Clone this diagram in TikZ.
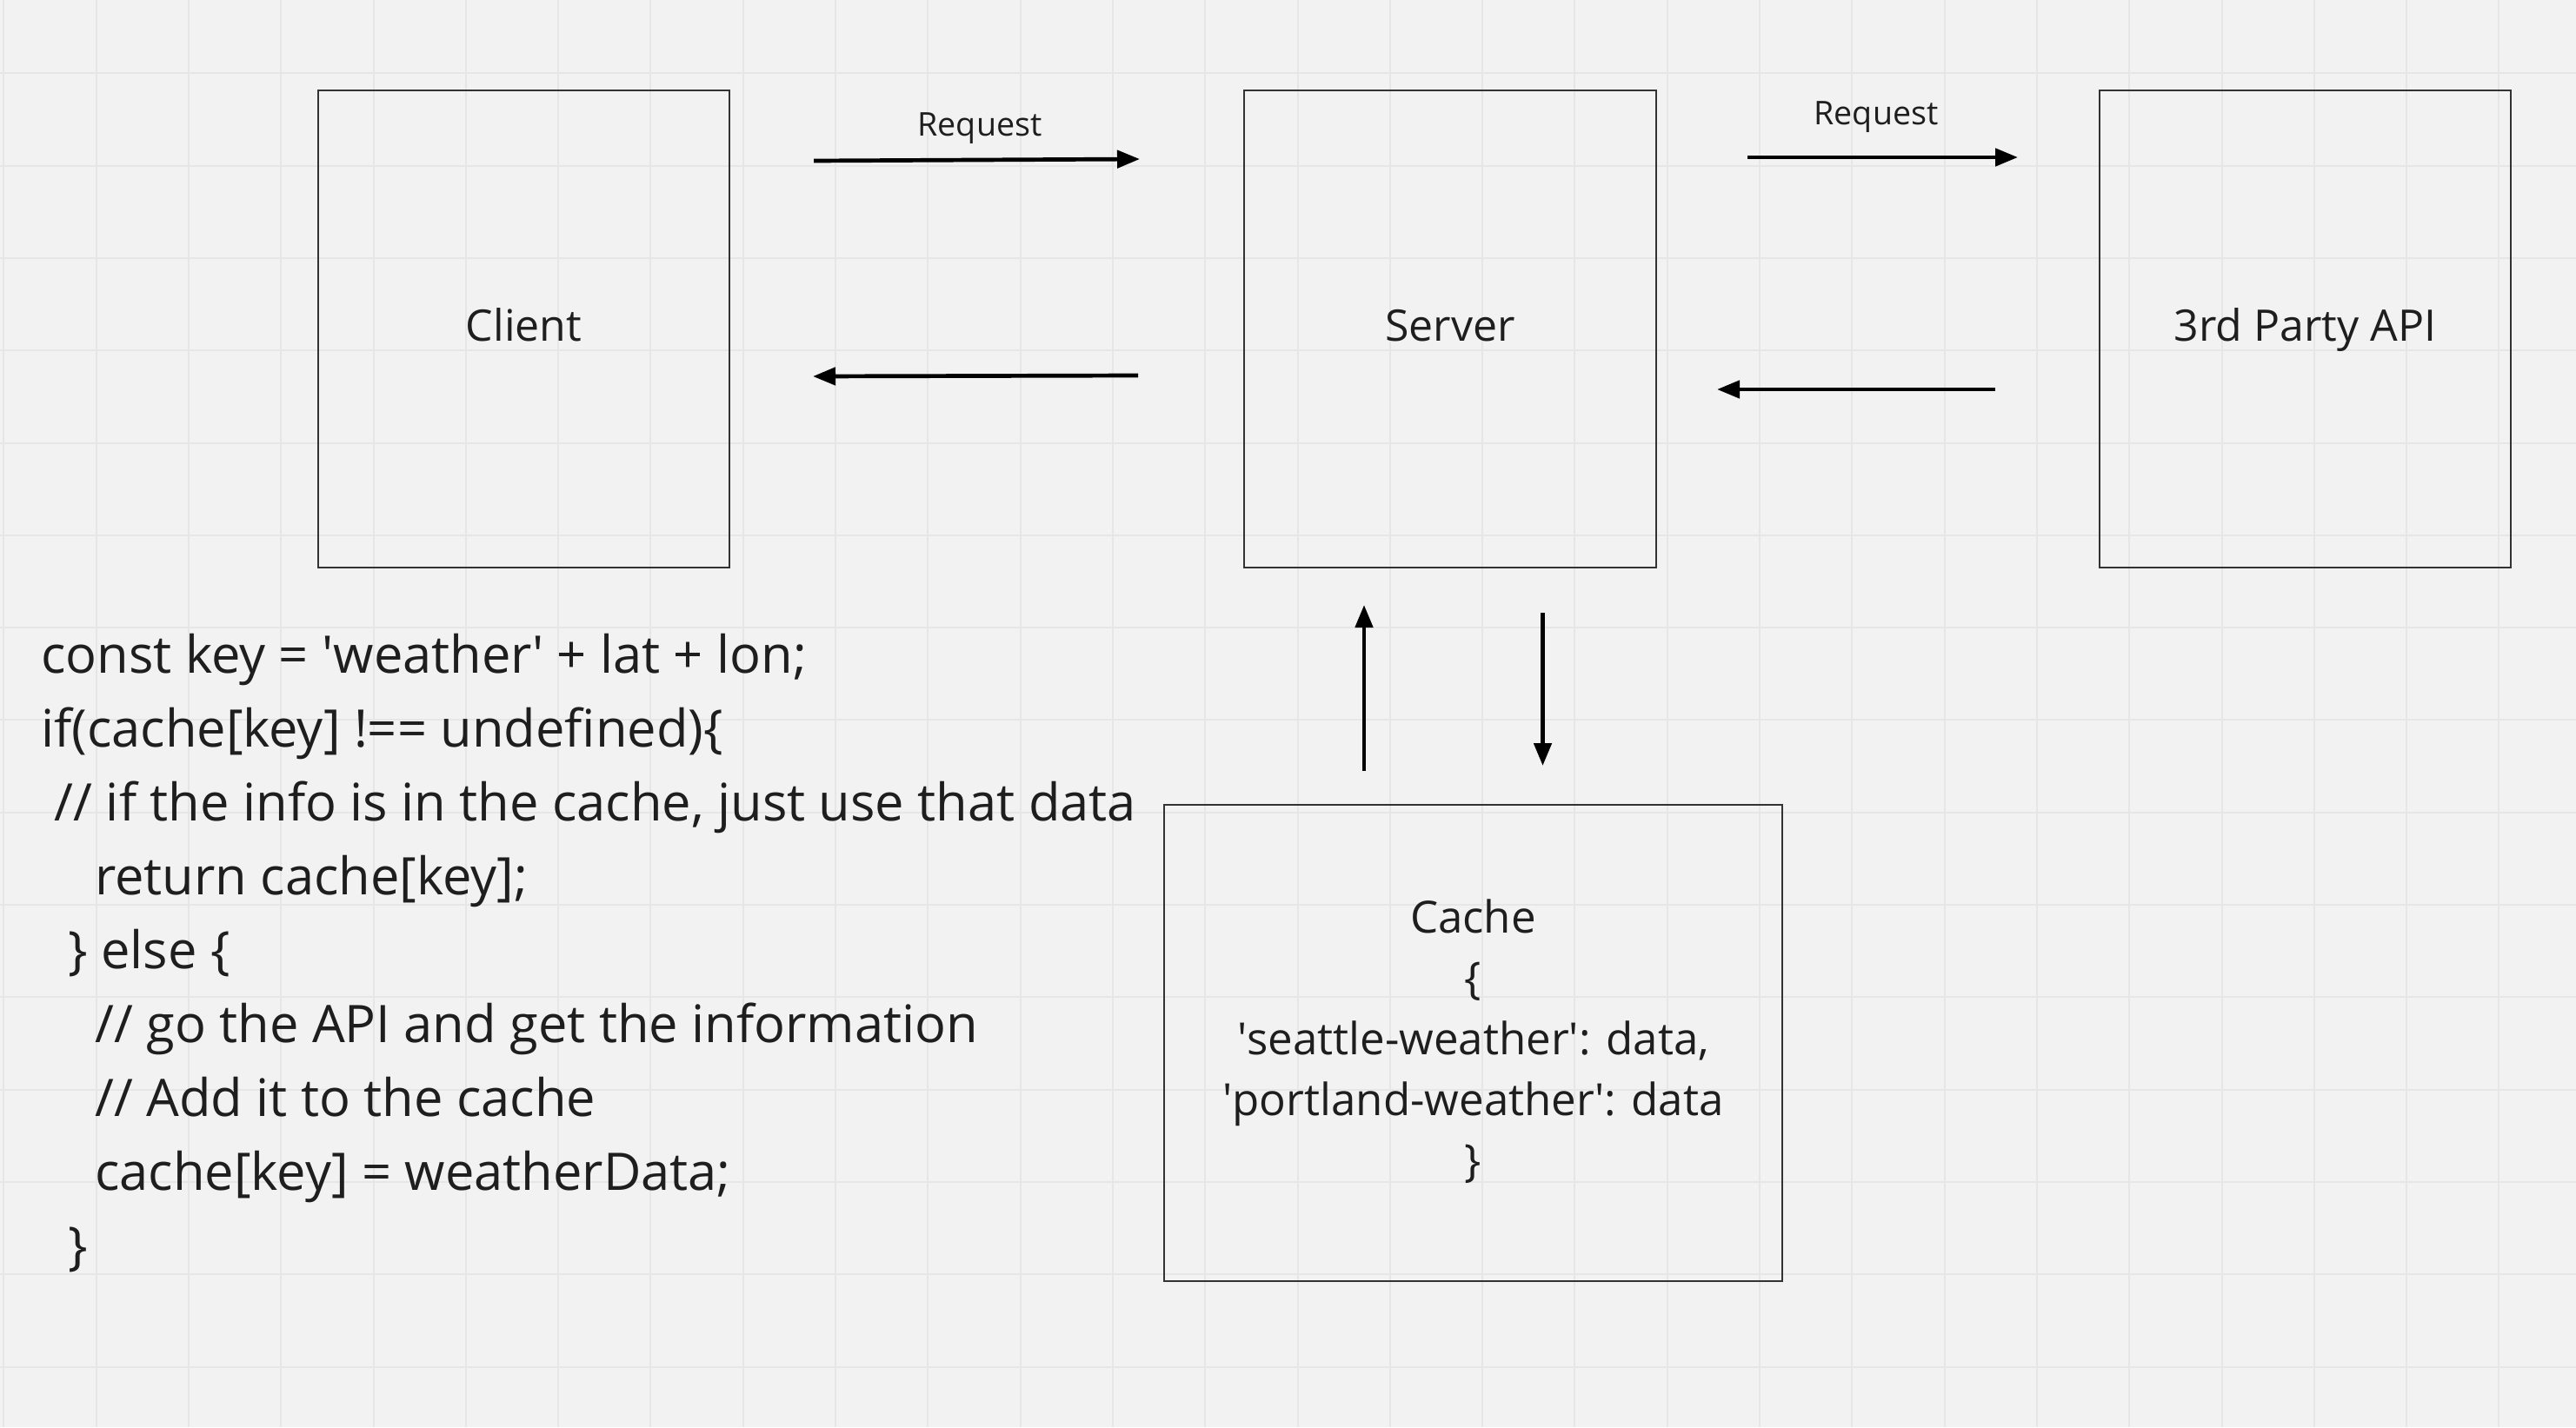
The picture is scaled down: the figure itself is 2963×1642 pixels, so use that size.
\documentclass[tikz,border=0pt]{standalone}
\usepackage{fontspec}
\setmainfont{Open Sans}
\usetikzlibrary{arrows.meta}
\definecolor{bgc}{HTML}{F2F2F2}
\definecolor{gridc}{HTML}{E6E6E6}
\definecolor{boxc}{HTML}{333333}
\definecolor{txtc}{HTML}{1E1E1E}
\newcommand{\sq}{\textquotesingle}
\tikzset{
  boxnode/.style={draw=boxc, line width=2.5pt, fill=none, inner sep=0pt, outer sep=0pt},
  bigtext/.style={text=txtc, inner sep=0pt, font=\fontsize{50}{68}\selectfont, anchor=base},
  reqtext/.style={text=txtc, inner sep=0pt, font=\fontsize{37.6}{50}\selectfont, anchor=base},
  cachetext/.style={text=txtc, inner sep=0pt, font=\fontsize{51}{70}\selectfont, anchor=base},
  codetext/.style={text=txtc, inner sep=0pt, font=\fontsize{59.6}{85}\selectfont, anchor=base west},
  flow/.style={draw=black, line width=4.7pt, -{Triangle[length=26pt,width=20pt]}},
  gridline/.style={draw=gridc, line width=2pt}
}
\begin{document}
\begin{tikzpicture}[x=1pt,y=-1pt]
\fill[bgc] (0,0) rectangle (2963,1642);
\useasboundingbox (0,0) rectangle (2963,1642);
\foreach \i in {0,...,27} \draw[gridline] ({4.3+106.3*\i},0) -- ++(0,1642);
\foreach \j in {0,...,14} \draw[gridline] (0,{84.3+106.3*\j}) -- ++(2963,0);

% boxes
\node[boxnode, minimum width=473pt, minimum height=549pt] (client) at (602.5,378.5) {};
\node[boxnode, minimum width=474pt, minimum height=549pt] (server) at (1668,378.5) {};
\node[boxnode, minimum width=473pt, minimum height=549pt] (api) at (2651.5,378.5) {};
\node[boxnode, minimum width=711pt, minimum height=548pt] (cache) at (1694.5,1200) {};

% box labels
\node[bigtext] (clientlbl) at (602.5,392) {Client};
\node[bigtext] (serverlbl) at (1668,392) {Server};
\node[bigtext] (apilbl) at (2651.5,392) {3rd Party API};

\node[cachetext] (c1) at (1694.5,1073.6) {Cache};
\node[cachetext] (c2) at (1694.5,1143.5) {\{};
\node[cachetext] (c3) at (1694.5,1213) {\sq seattle-weather\sq: data,};
\node[cachetext] (c4) at (1694.5,1283) {\sq portland-weather\sq: data};
\node[cachetext] (c5) at (1694.5,1353) {\}};

% request labels
\node[reqtext] (req1) at (1127,156) {Request};
\node[reqtext] (req2) at (2158,143) {Request};

% connector end points
\coordinate (a1s) at (936,185);  \coordinate (a1e) at (1311,183);
\coordinate (a2s) at (1309,432); \coordinate (a2e) at (935,433);
\coordinate (a3s) at (2010,181); \coordinate (a3e) at (2321,181);
\coordinate (a4s) at (2295,448); \coordinate (a4e) at (1975,448);
\coordinate (a5s) at (1569,887); \coordinate (a5e) at (1569,696);
\coordinate (a6s) at (1774.5,705); \coordinate (a6e) at (1774.5,881);

\draw[flow] (a1s) -- (a1e);
\draw[flow] (a2s) -- (a2e);
\draw[flow] (a3s) -- (a3e);
\draw[flow] (a4s) -- (a4e);
\draw[flow] (a5s) -- (a5e);
\draw[flow] (a6s) -- (a6e);

% code
\node[codetext] (l1) at (47,774) {const key = \sq weather\sq{} + lat + lon;};
\node[codetext] (l2) at (47,859) {if(cache[key] !== undefined)\{};
\node[codetext] (l3) at (62.6,944) {// if the info is in the cache, just use that data};
\node[codetext] (l4) at (109,1029) {return cache[key];};
\node[codetext] (l5) at (78,1114) {\} else \{};
\node[codetext] (l6) at (109,1199) {// go the API and get the information};
\node[codetext] (l7) at (109,1284) {// Add it to the cache};
\node[codetext] (l8) at (109,1369) {cache[key] = weatherData;};
\node[codetext] (l9) at (78,1454) {\}};
\end{tikzpicture}
\end{document}
